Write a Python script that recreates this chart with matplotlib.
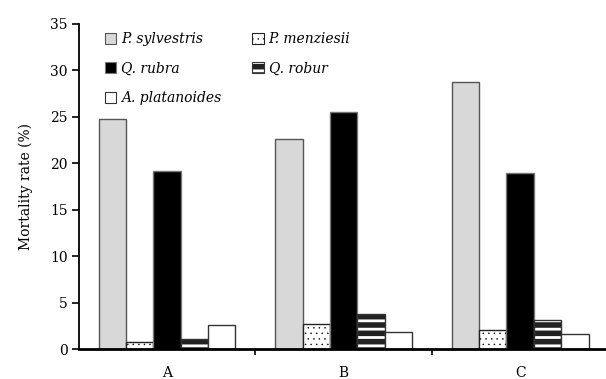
import matplotlib
matplotlib.use("Agg")
import matplotlib.pyplot as plt
from matplotlib.patches import Rectangle
from matplotlib.legend_handler import HandlerPatch
import numpy as np

plt.rcParams['font.family'] = ['DejaVu Serif']

sites = ['A', 'B', 'C']
species = ['P. sylvestris', 'P. menziesii', 'Q. rubra', 'Q. robur', 'A. platanoides']
p_sylvestris = [24.8, 22.6, 28.7]
p_menziesii = [0.8, 2.7, 2.0]
q_rubra = [19.2, 25.5, 19.0]
q_robur = [1.1, 3.8, 3.1]
a_platanoides = [2.6, 1.8, 1.6]
yticks = [0, 5, 10, 15, 20, 25, 30, 35]

values = [p_sylvestris, p_menziesii, q_rubra, q_robur, a_platanoides]
# face, edge, hatch, hatch colour, hatch width
styles = [
    ('#d8d8d8', '#555555', None, None, 0),
    ('white', '#222222', '...', 'black', 0.3),
    ('black', '#777777', None, None, 0),
    ('#222222', '#333333', '--', 'white', 2.0),
    ('white', '#333333', None, None, 0),
]


class HatchHandler(HandlerPatch):
    # keep each handle's own hatch width in the legend
    def create_artists(self, legend, orig_handle, *args):
        arts = super().create_artists(legend, orig_handle, *args)
        try:
            for a in arts:
                a.set_hatch_linewidth(orig_handle.get_hatch_linewidth())
        except AttributeError:
            pass
        return arts


fig = plt.figure(figsize=(6.06, 3.79), dpi=100)
ax = fig.add_axes([0.130, 0.079, 0.874, 0.858])

x = np.arange(len(sites))
w = 0.155
handles = []
for i, (vals, (fc, ec, hatch, hc, hlw)) in enumerate(zip(values, styles)):
    pos = x + (i - 2) * w
    if hatch:
        plt.rcParams['hatch.linewidth'] = hlw
        hb = ax.bar(pos, vals, w, color=fc, edgecolor=hc, hatch=hatch, linewidth=0)
        for p in hb:
            try:
                p.set_hatch_linewidth(hlw)
            except AttributeError:
                pass
        ax.bar(pos, vals, w, fill=False, edgecolor=ec, linewidth=1.0)
        hp = Rectangle((0, 0), 1, 1, facecolor=fc, edgecolor=hc, hatch=hatch, linewidth=0)
        try:
            hp.set_hatch_linewidth(hlw)
        except AttributeError:
            pass
        frame = Rectangle((0, 0), 1, 1, fill=False, edgecolor=ec, linewidth=0.8)
        handles.append((hp, frame))
    else:
        ax.bar(pos, vals, w, color=fc, edgecolor=ec, linewidth=1.0)
        handles.append(Rectangle((0, 0), 1, 1, facecolor=fc, edgecolor=ec, linewidth=0.8))

# row-wise order for a 2-column legend
order = [0, 2, 4, 1, 3]
ax.legend([handles[k] for k in order], [species[k] for k in order], ncol=2,
          loc='upper left', frameon=False, bbox_to_anchor=(0.025, 1.012),
          prop={'style': 'italic', 'size': 10},
          handlelength=0.85, handleheight=0.85, handletextpad=0.35,
          columnspacing=2.2, labelspacing=1.1,
          handler_map={Rectangle: HatchHandler()})

ax.set_xlim(-0.5, 2.5)
ax.set_ylim(0, 35)
ax.set_yticks(yticks)
ax.set_xticks(x)
ax.set_xticklabels(sites)
ax.set_xticks([0.5, 1.5], minor=True)
ax.tick_params(axis='x', which='major', length=0, pad=12, labelsize=10)
ax.tick_params(axis='x', which='minor', length=4, width=1.2, direction='out')
ax.tick_params(axis='y', length=5, width=1.2, direction='out', labelsize=10, pad=3)
ax.spines['top'].set_visible(False)
ax.spines['right'].set_visible(False)
ax.spines['left'].set_linewidth(1.3)
ax.spines['bottom'].set_linewidth(2.0)
ax.set_ylabel('Mortality rate (%)', fontsize=10, labelpad=12)

fig.savefig('out.png', dpi=100)
